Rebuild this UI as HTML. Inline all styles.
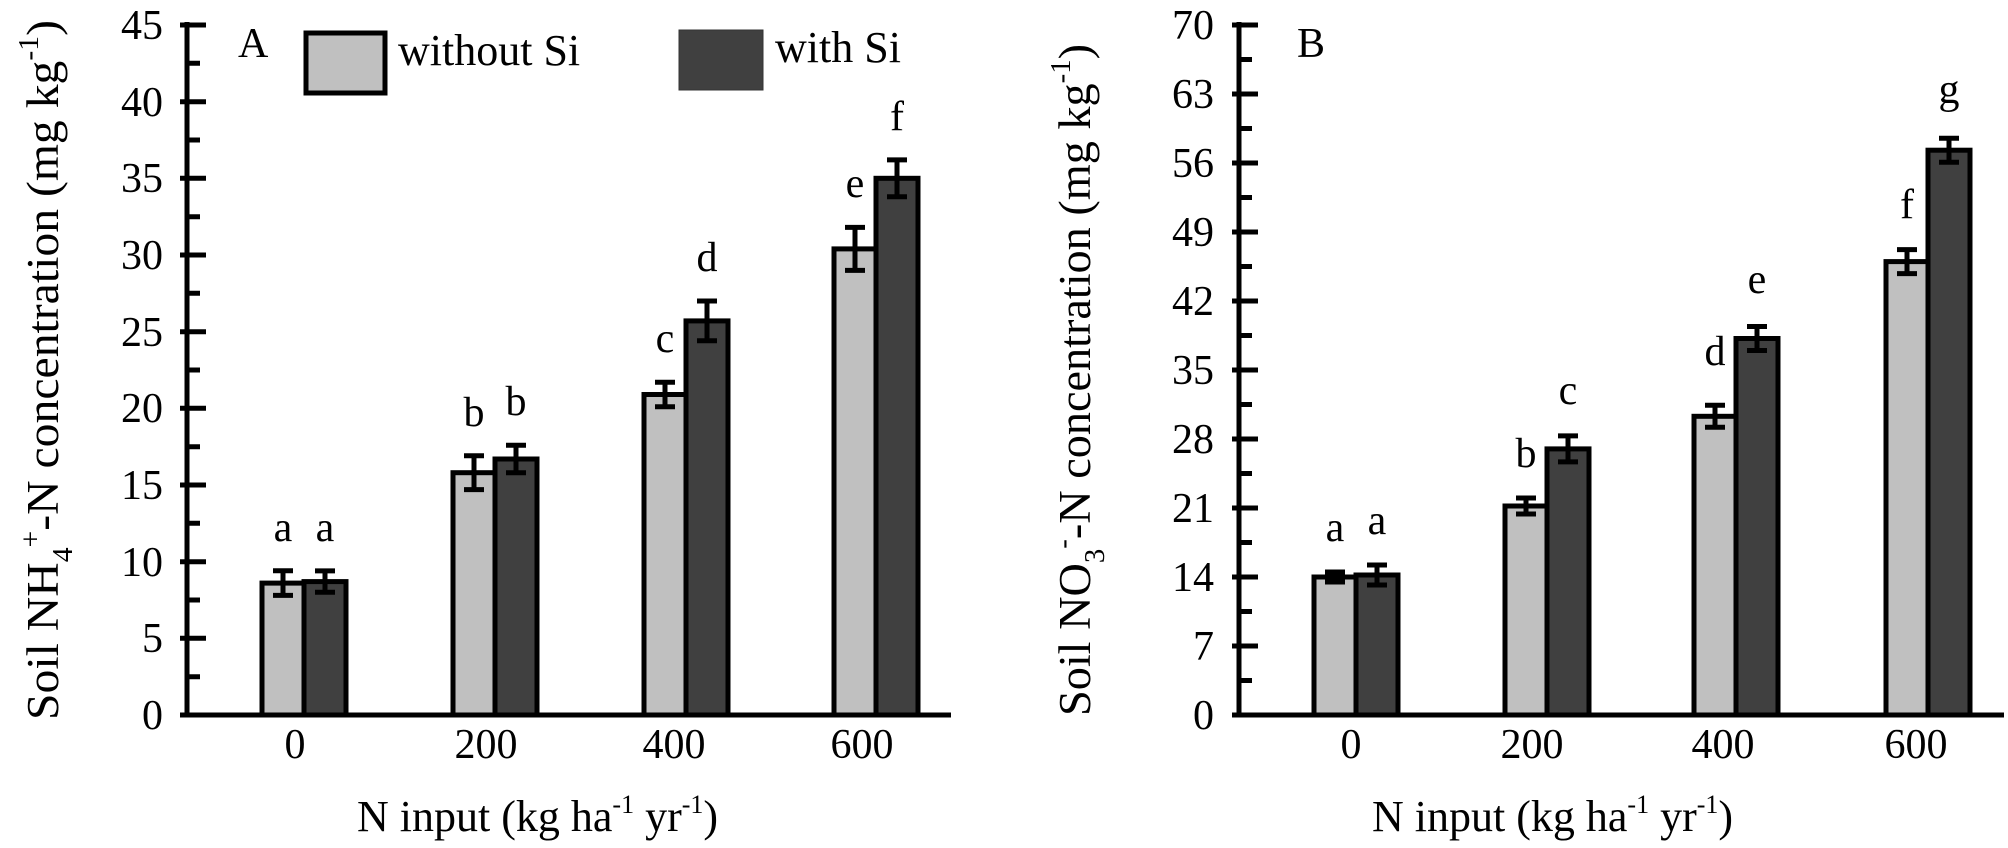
<!DOCTYPE html>
<html><head><meta charset="utf-8"><style>
html,body{margin:0;padding:0;background:#fff;}
svg{display:block;font-family:"Liberation Serif",serif;}
</style></head><body>
<svg width="2008" height="848" viewBox="0 0 2008 848" xmlns="http://www.w3.org/2000/svg">
<g font-size="42" fill="#000">
<!-- LEFT PANEL -->
<g stroke="#000" stroke-width="5" fill="none">
<path d="M187 22 V715 H951"/>
<path d="M180 715H206M180 638.3H206M180 561.7H206M180 485H206M180 408.3H206M180 331.7H206M180 255H206M180 178.3H206M180 101.7H206M180 25H206"/>
<path d="M187 676.7H200M187 600H200M187 523.3H200M187 446.7H200M187 370H200M187 293.3H200M187 216.7H200M187 140H200M187 63.3H200"/>
</g>
<g text-anchor="end">
<text x="163" y="729">0</text><text x="163" y="652">5</text><text x="163" y="576">10</text><text x="163" y="499">15</text><text x="163" y="422">20</text><text x="163" y="346">25</text><text x="163" y="269">30</text><text x="163" y="192">35</text><text x="163" y="116">40</text><text x="163" y="39">45</text>
</g>
<g stroke="#000" stroke-width="5">
<rect x="262" y="583.1" width="42" height="131.9" fill="#c0c0c0"/>
<rect x="304" y="581.6" width="42" height="133.4" fill="#404040"/>
<rect x="453" y="472.7" width="42" height="242.3" fill="#c0c0c0"/>
<rect x="495" y="459" width="42" height="256" fill="#404040"/>
<rect x="644" y="394.5" width="42" height="320.5" fill="#c0c0c0"/>
<rect x="686" y="320.9" width="42" height="394.1" fill="#404040"/>
<rect x="834" y="248.9" width="42" height="466.1" fill="#c0c0c0"/>
<rect x="876" y="178.3" width="42" height="536.7" fill="#404040"/>
</g>
<g stroke="#000" stroke-width="5" fill="none">
<path d="M283 570.8V595.4M273 570.8H293M273 595.4H293"/>
<path d="M325 570.9V592.3M315 570.9H335M315 592.3H335"/>
<path d="M474 455.8V489.6M464 455.8H484M464 489.6H484"/>
<path d="M516 445.2V472.8M506 445.2H526M506 472.8H526"/>
<path d="M665 382.2V406.8M655 382.2H675M655 406.8H675"/>
<path d="M707 301V340.8M697 301H717M697 340.8H717"/>
<path d="M855 227.4V270.4M845 227.4H865M845 270.4H865"/>
<path d="M897 159.9V196.7M887 159.9H907M887 196.7H907"/>
</g>
<g text-anchor="middle">
<text x="283" y="541">a</text><text x="325" y="541">a</text>
<text x="474" y="426">b</text><text x="516" y="415">b</text>
<text x="665" y="352">c</text><text x="707" y="271">d</text>
<text x="855" y="197">e</text><text x="897" y="130">f</text>
<text x="295" y="758">0</text><text x="486" y="758">200</text><text x="674" y="758">400</text><text x="862" y="758">600</text>
</g>
<text x="357" y="831" font-size="44">N input (kg ha<tspan font-size="26" dy="-18">-1</tspan><tspan dy="18"> yr</tspan><tspan font-size="26" dy="-18">-1</tspan><tspan dy="18">)</tspan></text>
<text transform="translate(58,370) rotate(-90)" text-anchor="middle" font-size="45" textLength="700" lengthAdjust="spacingAndGlyphs">Soil NH<tspan font-size="28" dy="14">4</tspan><tspan font-size="28" dy="-32">+</tspan><tspan dy="18">-N concentration (mg kg</tspan><tspan font-size="28" dy="-20">-1</tspan><tspan dy="20">)</tspan></text>
<text x="238" y="57">A</text>
<rect x="306" y="33" width="79" height="60" fill="#c0c0c0" stroke="#000" stroke-width="5"/>
<text x="398" y="65" font-size="44">without Si</text>
<rect x="679" y="30" width="84" height="60" fill="#404040" stroke="#333" stroke-width="1"/>
<text x="775" y="62" font-size="44">with Si</text>

<!-- RIGHT PANEL -->
<g stroke="#000" stroke-width="5" fill="none">
<path d="M1239 22 V715 H2004"/>
<path d="M1232 715H1258M1232 646H1258M1232 577H1258M1232 508H1258M1232 439H1258M1232 370H1258M1232 301H1258M1232 232H1258M1232 163H1258M1232 94H1258M1232 25H1258"/>
<path d="M1239 680.5H1252M1239 611.5H1252M1239 542.5H1252M1239 473.5H1252M1239 404.5H1252M1239 335.5H1252M1239 266.5H1252M1239 197.5H1252M1239 128.5H1252M1239 59.5H1252"/>
</g>
<g text-anchor="end">
<text x="1214" y="729">0</text><text x="1214" y="660">7</text><text x="1214" y="591">14</text><text x="1214" y="522">21</text><text x="1214" y="453">28</text><text x="1214" y="384">35</text><text x="1214" y="315">42</text><text x="1214" y="246">49</text><text x="1214" y="177">56</text><text x="1214" y="108">63</text><text x="1214" y="39">70</text>
</g>
<g stroke="#000" stroke-width="5">
<rect x="1314" y="577" width="42" height="138" fill="#c0c0c0"/>
<rect x="1356" y="575" width="42" height="140" fill="#404040"/>
<rect x="1505" y="506" width="42" height="209" fill="#c0c0c0"/>
<rect x="1547" y="448.9" width="42" height="266.1" fill="#404040"/>
<rect x="1694" y="416.3" width="42" height="298.7" fill="#c0c0c0"/>
<rect x="1736" y="338.5" width="42" height="376.5" fill="#404040"/>
<rect x="1886" y="261.6" width="42" height="453.4" fill="#c0c0c0"/>
<rect x="1928" y="150.2" width="42" height="564.8" fill="#404040"/>
</g>
<g stroke="#000" stroke-width="5" fill="none">
<path d="M1335 572V582M1325 572H1345M1325 582H1345"/>
<path d="M1377 565V585M1367 565H1387M1367 585H1387"/>
<path d="M1526 498V514M1516 498H1536M1516 514H1536"/>
<path d="M1568 435.9V461.9M1558 435.9H1578M1558 461.9H1578"/>
<path d="M1715 405.3V427.3M1705 405.3H1725M1705 427.3H1725"/>
<path d="M1757 326.5V350.5M1747 326.5H1767M1747 350.5H1767"/>
<path d="M1907 249.6V273.6M1897 249.6H1917M1897 273.6H1917"/>
<path d="M1949 138.2V162.2M1939 138.2H1959M1939 162.2H1959"/>
</g>
<g text-anchor="middle">
<text x="1335" y="541">a</text><text x="1377" y="534">a</text>
<text x="1526" y="467">b</text><text x="1568" y="404">c</text>
<text x="1715" y="365">d</text><text x="1757" y="293">e</text>
<text x="1907" y="218">f</text><text x="1949" y="103">g</text>
<text x="1351" y="758">0</text><text x="1532" y="758">200</text><text x="1723" y="758">400</text><text x="1916" y="758">600</text>
</g>
<text x="1372" y="831" font-size="44">N input (kg ha<tspan font-size="26" dy="-18">-1</tspan><tspan dy="18"> yr</tspan><tspan font-size="26" dy="-18">-1</tspan><tspan dy="18">)</tspan></text>
<text transform="translate(1090,380) rotate(-90)" text-anchor="middle" font-size="45" textLength="672" lengthAdjust="spacingAndGlyphs">Soil NO<tspan font-size="28" dy="14">3</tspan><tspan font-size="28" dy="-32">-</tspan><tspan dy="18">-N concentration (mg kg</tspan><tspan font-size="28" dy="-20">-1</tspan><tspan dy="20">)</tspan></text>
<text x="1297" y="57">B</text>
</g>
</svg>
</body></html>
